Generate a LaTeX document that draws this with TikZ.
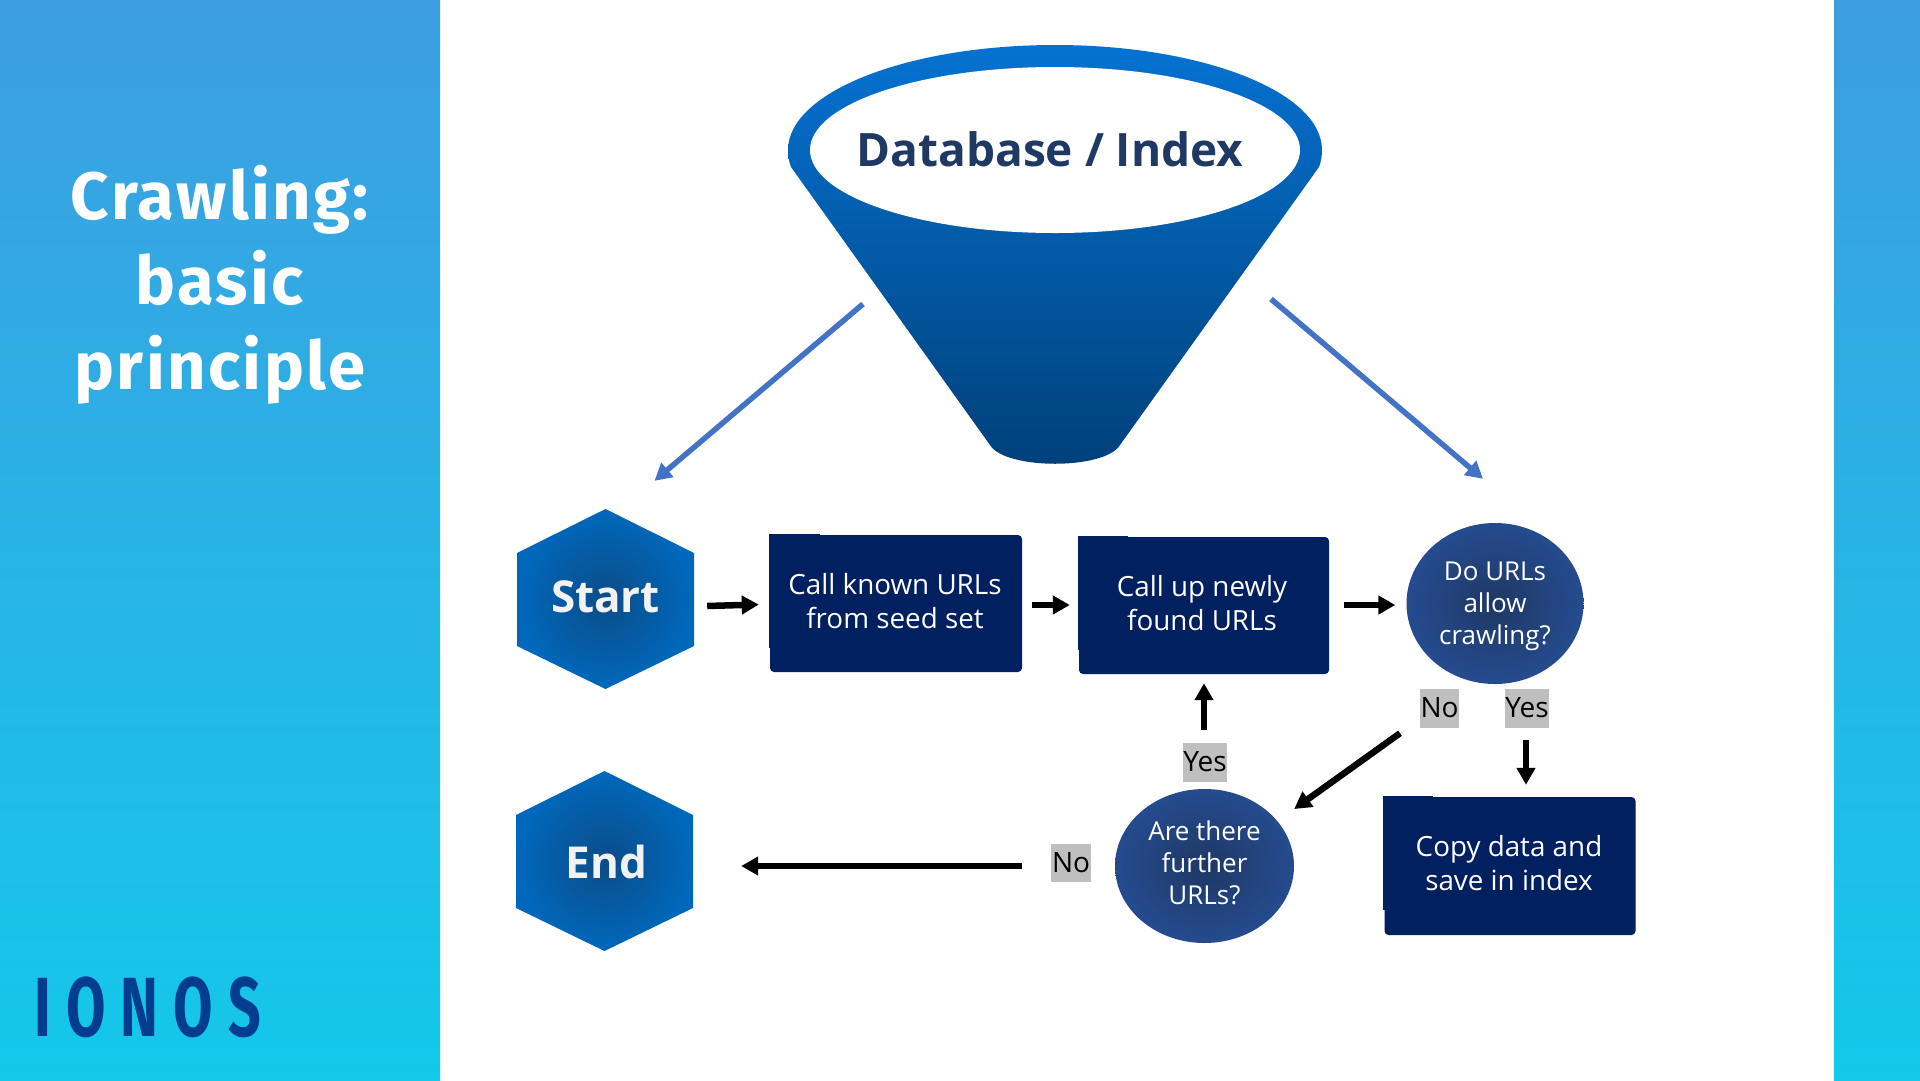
\documentclass[tikz,border=0pt]{standalone}
\usepackage{fontspec}
\setmainfont{Open Sans}
\newfontfamily\titlefont[LetterSpace=3.5]{Fira Sans}
\newfontfamily\logofont[LetterSpace=18,FakeStretch=0.68]{Fira Sans}
\usetikzlibrary{arrows.meta,shapes.geometric}
\definecolor{navy}{HTML}{002060}
\definecolor{tagc}{HTML}{BFBFBF}
\definecolor{arrowblue}{HTML}{4472C4}
\definecolor{dbtext}{HTML}{1F3864}
\definecolor{logoc}{HTML}{003D8F}
\definecolor{paneltop}{HTML}{3D9EE0}
\definecolor{panelbot}{HTML}{14C8EA}
\definecolor{circin}{HTML}{1F3864}
\definecolor{circout}{HTML}{254B8F}
\definecolor{hexin}{HTML}{0C4C88}
\definecolor{hexout}{HTML}{0068BC}
\definecolor{hextext}{HTML}{F2F2F2}
\definecolor{funtop}{HTML}{0572D2}
\definecolor{funbot}{HTML}{004079}
\tikzset{
  panel/.style={top color=paneltop,bottom color=panelbot},
  boxnode/.style={fill=navy,rounded corners=4pt,inner sep=0pt},
  boxtext/.style={text=white,align=center,inner sep=0pt,font=\fontsize{27.8}{34}\selectfont},
  notch/.style={fill=navy},
  circnode/.style={ellipse,inner color=circin,outer color=circout,inner sep=0pt},
  circtext/.style={text=white,align=center,inner sep=0pt,font=\fontsize{26}{32}\selectfont},
  hexlabel/.style={minimum width=177pt,minimum height=180pt,inner sep=0pt,text=hextext,
    font=\fontsize{44}{50}\selectfont\bfseries},
  hexshape/.style={inner color=hexin,outer color=hexout},
  tag/.style={fill=tagc,inner sep=0pt,text=black,font=\fontsize{28}{32}\selectfont},
  blackarrow/.style={line width=6.5pt,-{Triangle[length=17pt,width=18pt]}},
  bluearrow/.style={arrowblue,line width=5.5pt,-{Triangle[length=17pt,width=18pt]}},
}
\begin{document}
\begin{tikzpicture}[x=1pt,y=-1pt]
\useasboundingbox (0,0) rectangle (1920,1080);
\fill[white] (0,0) rectangle (1920,1080);
% side panels
\shade[panel] (0,0) rectangle (440,1080);
\shade[panel] (1834,0) rectangle (1920,1080);
\node[text=white,align=center,inner sep=0pt,font=\fontsize{67}{85}\selectfont\titlefont\bfseries] (title) at (220,285)
  {Crawling:\\basic\\principle};
\node[text=logoc,inner sep=0pt,anchor=west,font=\fontsize{84}{90}\selectfont\logofont\bfseries] (logo) at (34,1007) {IONOS};
% funnel
\shade[top color=funtop,bottom color=funbot]
  (791,167) .. controls (789,162) and (788,156) .. (788,150)
  .. controls (788,92) and (907.5,45) .. (1055,45)
  .. controls (1202.5,45) and (1322,92) .. (1322,150)
  .. controls (1322,156) and (1321,162) .. (1319,167)
  -- (1120,445) .. controls (1105,470) and (1005,470) .. (990,445) -- cycle;
\node[ellipse,fill=white,minimum width=490pt,minimum height=166pt,inner sep=0pt] (funnel) at (1055,150) {};
\node[text=dbtext,inner sep=0pt,font=\fontsize{46}{52}\selectfont\bfseries] (dbname) at (1050,149) {Database / Index};
% hexagons
\shade[hexshape] (605.5,509) -- (694,553) -- (694,646) -- (605.5,689) -- (517,646) -- (517,553) -- cycle;
\node[hexlabel] (start) at (605.5,597) {Start};
\shade[hexshape] (604.5,771) -- (693,815) -- (693,908) -- (604.5,951) -- (516,908) -- (516,815) -- cycle;
\node[hexlabel] (end) at (606.5,862) {End};
% boxes
\fill[notch] (769,534) rectangle (820,648);
\node[boxnode,minimum width=252pt,minimum height=137pt] (box1) at (896,603.5) {};
\node[boxtext] (box1text) at (895,601) {Call known URLs\\from seed set};
\fill[notch] (1078,536) rectangle (1128,650);
\node[boxnode,minimum width=250pt,minimum height=137pt] (box2) at (1204,605.5) {};
\node[boxtext] (box2text) at (1202,603) {Call up newly\\found URLs};
\fill[notch] (1383,796) rectangle (1433,910);
\node[boxnode,minimum width=251pt,minimum height=138pt] (box3) at (1510,866) {};
\node[boxtext] (box3text) at (1509,863) {Copy data and\\save in index};
% decisions
\node[circnode,minimum width=177pt,minimum height=161pt] (dec1) at (1495,603.5) {};
\node[circtext] (dec1text) at (1495,606.5) {Do URLs\\allow\\crawling?};
\node[circnode,minimum width=179pt,minimum height=154pt] (dec2) at (1204.5,866) {};
\node[circtext] (dec2text) at (1204.5,862.5) {Are there\\further\\URLs?};
% tags
\node[tag,minimum width=39pt,minimum height=39pt] (tagno1) at (1439.5,708) {\raisebox{-1pt}{No}};
\node[tag,minimum width=44pt,minimum height=39pt] (tagyes1) at (1527,708) {\raisebox{-1pt}{Yes}};
\node[tag,minimum width=44pt,minimum height=39pt] (tagyes2) at (1205,762) {\raisebox{-1pt}{Yes}};
\node[tag,minimum width=40pt,minimum height=38pt] (tagno2) at (1071,863) {\raisebox{-1pt}{No}};
% connectors
\draw[bluearrow] ([shift={(-192,154)}]funnel.center) -- ([shift={(49,-26)}]start.north);
\draw[bluearrow] ([shift={(216,149)}]funnel.center) -- ([shift={(-12,-44)}]dec1.north);
\draw[blackarrow] ([shift={(13,9)}]start.east) -- ([shift={(-11,1)}]box1.west);
\draw[blackarrow] ([shift={(10,1.5)}]box1.east) -- ([shift={(-9,-0.5)}]box2.west);
\draw[blackarrow] ([shift={(15,-0.5)}]box2.east) -- ([shift={(-11,1.5)}]dec1.west);
\draw[blackarrow] ([shift={(-1,-12)}]tagyes2.north) -- ([shift={(0,9)}]box2.south);
\draw[blackarrow] ([shift={(-39.5,5.5)}]tagno1.south) -- ([shift={(0,-57)}]dec2.east);
\draw[blackarrow] ([shift={(-1,12.5)}]tagyes1.south) -- ([shift={(16,-12)}]box3.north);
\draw[blackarrow] ([shift={(-29,3)}]tagno2.west) -- ([shift={(46,4)}]end.east);
\end{tikzpicture}
\end{document}
